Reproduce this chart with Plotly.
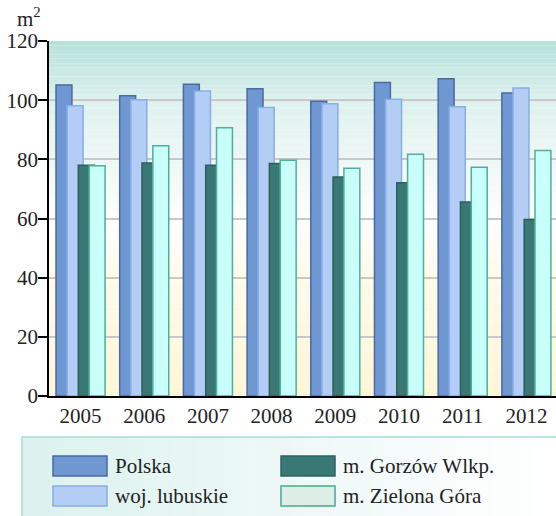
import plotly.graph_objects as go

years = ["2005", "2006", "2007", "2008", "2009", "2010", "2011", "2012"]
polska = [105.1, 101.5, 105.4, 103.9, 99.6, 106.0, 107.2, 102.4]
lubuskie = [98.1, 100.1, 103.1, 97.5, 98.8, 100.3, 97.8, 104.1]
gorzow = [78.0, 78.8, 78.0, 78.6, 74.0, 72.1, 65.6, 59.7]
zielona = [77.8, 84.6, 90.7, 79.7, 77.0, 81.7, 77.3, 83.0]

series_names = ["Polska", "woj. lubuskie", "m. Gorzów Wlkp.", "m. Zielona Góra"]
series_values = [polska, lubuskie, gorzow, zielona]
fills = ["#6f98d2", "#b4cdf5", "#3a7876", "#c8fffa"]
lines = ["#4a6aa0", "#86aee8", "#2a5f5c", "#4fae9c"]
swatch_fills = ["#6f98d2", "#b4cdf5", "#3a7876", "#ddeee4"]
swatch_lines = ["#4a6aa0", "#86aee8", "#2e6360", "#4aa890"]
offsets = [-0.385, -0.21, -0.035, 0.135]

FONT = "Liberation Serif"
W, H = 556, 516
ML, MR, MT, MB = 49, 0, 41, 120
PW, PH = W - ML - MR, H - MT - MB


def px(x):
    return (x - ML) / PW


def py(y):
    return (H - MB - y) / PH


def mix(c1, c2, t):
    a = [int(c1[i:i + 2], 16) for i in (1, 3, 5)]
    b = [int(c2[i:i + 2], 16) for i in (1, 3, 5)]
    return "rgb(%d,%d,%d)" % tuple(round(a[k] + (b[k] - a[k]) * t) for k in range(3))


fig = go.Figure()
for name, vals, fc, lc, off in zip(series_names, series_values, fills, lines, offsets):
    fig.add_trace(go.Bar(
        x=years, y=vals, name=name, width=0.25, offset=off,
        marker=dict(color=fc, line=dict(color=lc, width=1.5)),
        showlegend=False,
    ))

shapes = []
# vertical background gradient of the plot area (top -> bottom)
stops = [(0.0, "#b6e1db"), (0.18, "#dff2ee"), (0.35, "#eff8f6"),
         (0.5, "#fefefe"), (0.66, "#fffbea"), (1.0, "#fff5d6")]
n = 80
for i in range(n):
    t = (i + 0.5) / n
    for j in range(len(stops) - 1):
        if stops[j][0] <= t <= stops[j + 1][0]:
            f = (t - stops[j][0]) / (stops[j + 1][0] - stops[j][0])
            col = mix(stops[j][1], stops[j + 1][1], f)
            break
    shapes.append(dict(type="rect", xref="x domain", yref="y domain",
                       x0=0, x1=1, y0=1 - (i + 1) / n, y1=1 - i / n,
                       fillcolor=col, line=dict(width=0), layer="below"))

# legend frame with horizontal gradient
m = 40
lx0, lx1, ly0, ly1 = 22, 560, 437, 520
for i in range(m):
    col = mix("#dcf2ee", "#ffffff", i / (m - 1))
    shapes.append(dict(type="rect", xref="paper", yref="paper",
                       x0=px(lx0 + (lx1 - lx0) * i / m), x1=px(lx0 + (lx1 - lx0) * (i + 1) / m) + 0.002,
                       y0=py(ly1), y1=py(ly0), fillcolor=col, line=dict(width=0)))
shapes.append(dict(type="rect", xref="paper", yref="paper",
                   x0=px(lx0), x1=px(lx1), y0=py(ly1), y1=py(ly0),
                   fillcolor="rgba(0,0,0,0)", line=dict(color="#a6dcd3", width=1.5)))

annotations = []
slots = [(53, 456), (53, 486), (281, 456), (281, 486)]
for (sx, sy), name, fc, lc in zip(slots, series_names, swatch_fills, swatch_lines):
    shapes.append(dict(type="rect", xref="paper", yref="paper",
                       x0=px(sx), x1=px(sx + 54), y0=py(sy + 20), y1=py(sy),
                       fillcolor=fc, line=dict(color=lc, width=1.5)))
    annotations.append(dict(xref="paper", yref="paper", x=px(sx + 60), y=py(sy + 10),
                            text=name, showarrow=False, xanchor="left", yanchor="middle",
                            font=dict(family=FONT, size=21, color="#222222")))

annotations.append(dict(xref="paper", yref="paper", x=px(15), y=py(33),
                        text="m<sup>2</sup>", showarrow=False, xanchor="left", yanchor="bottom",
                        font=dict(family=FONT, size=21, color="#222222")))

fig.update_layout(
    width=W, height=H,
    margin=dict(l=ML, r=MR, t=MT, b=MB, pad=0),
    paper_bgcolor="white", plot_bgcolor="rgba(0,0,0,0)",
    barmode="overlay",
    shapes=shapes, annotations=annotations,
    font=dict(family=FONT, size=20, color="#222222"),
    xaxis=dict(type="category", range=[-0.495, 7.465], showgrid=False,
               showline=True, linecolor="black", linewidth=1.5, ticks="",
               tickfont=dict(family=FONT, size=21, color="#222222"), fixedrange=True),
    yaxis=dict(range=[0, 120], tickvals=[0, 20, 40, 60, 80, 100, 120],
               showgrid=True, gridcolor="#c8c8c8", gridwidth=1.5,
               showline=True, linecolor="black", linewidth=1.5,
               ticks="outside", ticklen=9, tickcolor="black", tickwidth=1.5,
               ticklabelstandoff=-4, zeroline=False,
               tickfont=dict(family=FONT, size=21, color="#222222"), fixedrange=True),
)

fig.write_html("out.html")
